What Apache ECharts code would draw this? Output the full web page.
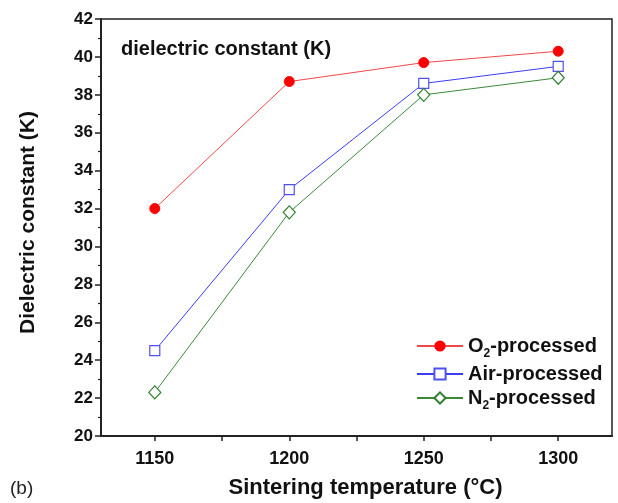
<!DOCTYPE html>
<html>
<head>
<meta charset="utf-8">
<script src="https://cdn.jsdelivr.net/npm/echarts@6/dist/echarts.min.js"></script>
<style>
  html, body { margin: 0; padding: 0; background: #fff; }
  #chart { width: 618px; height: 503px; }
</style>
</head>
<body>
<div id="chart"></div>
<script>
var temps = [1150, 1200, 1250, 1300];
var o2Vals = [32.0, 38.7, 39.7, 40.3];
var airVals = [24.5, 33.0, 38.6, 39.5];
var n2Vals = [22.3, 31.8, 38.0, 38.9];
var xLabels = [1150, 1200, 1250, 1300];
var xTicks = [1150, 1175, 1200, 1225, 1250, 1275, 1300];

var font = 'Liberation Sans, Arial, sans-serif';

function pairs(vals) {
  var out = [];
  for (var i = 0; i < temps.length; i++) out.push([temps[i], vals[i]]);
  return out;
}

var chart = echarts.init(document.getElementById('chart'));
chart.setOption({
  animation: false,
  grid: {
    left: 101, top: 19, right: 6, bottom: 67,
    containLabel: false, outerBoundsMode: 'none',
    show: true, borderColor: '#222', borderWidth: 1.5
  },
  title: {
    text: 'dielectric constant (K)',
    left: 116, top: 34,
    textStyle: { fontFamily: font, fontWeight: 'bold', fontSize: 20, color: '#111' }
  },
  legend: {
    orient: 'vertical',
    left: 411, top: 331,
    itemWidth: 46, itemHeight: 14, itemGap: 4,
    data: ['O2-processed', 'Air-processed', 'N2-processed'],
    formatter: function (name) {
      if (name === 'O2-processed') return 'O{s|2}-processed';
      if (name === 'N2-processed') return 'N{s|2}-processed';
      return name;
    },
    textStyle: {
      fontFamily: font, fontWeight: 'bold', fontSize: 20, color: '#111',
      rich: { s: { fontFamily: font, fontWeight: 'bold', fontSize: 12, padding: [16, 0, 0, 0], color: '#111' } }
    }
  },
  xAxis: {
    type: 'value', min: 1130, max: 1320,
    name: 'Sintering temperature (°C)',
    nameLocation: 'middle', nameGap: 41,
    nameTextStyle: { fontFamily: font, fontWeight: 'bold', fontSize: 22, color: '#111', padding: [0, 0, 0, 18] },
    axisLine: { show: true, lineStyle: { color: '#222', width: 2 } },
    axisTick: { show: true, inside: false, length: 5, customValues: xTicks, lineStyle: { color: '#222', width: 1.5 } },
    axisLabel: {
      customValues: xLabels, fontFamily: font, fontWeight: 'bold', fontSize: 18, color: '#111', margin: 14,
      formatter: function (v) { return String(v); }
    },
    splitLine: { show: false }
  },
  yAxis: {
    type: 'value', min: 20, max: 42, interval: 2,
    name: 'Dielectric constant (K)',
    nameLocation: 'middle', nameGap: 62, nameRotate: 90,
    nameTextStyle: { fontFamily: font, fontWeight: 'bold', fontSize: 21, color: '#111', padding: [0, 0, 0, 10] },
    axisLine: { show: true, lineStyle: { color: '#222', width: 2 } },
    axisTick: { show: true, inside: false, length: 6, lineStyle: { color: '#222', width: 1.5 } },
    minorTick: { show: true, splitNumber: 2, length: 3, lineStyle: { color: '#222', width: 1.2 } },
    axisLabel: { fontFamily: font, fontWeight: 'bold', fontSize: 17, color: '#111', margin: 8 },
    splitLine: { show: false }
  },
  graphic: [{
    type: 'text', left: 10, top: 479,
    style: { text: '(b)', fontFamily: font, fontSize: 19, fill: '#222' }
  }],
  series: [
    {
      name: 'O2-processed', type: 'line', data: pairs(o2Vals),
      symbol: 'circle', symbolSize: 10,
      lineStyle: { color: '#f04848', width: 1 },
      itemStyle: { color: '#ff0000', borderColor: '#ff0000' }
    },
    {
      name: 'Air-processed', type: 'line', data: pairs(airVals),
      symbol: 'rect', symbolSize: 10,
      lineStyle: { color: '#3c3cf0', width: 1 },
      itemStyle: { color: '#fff', borderColor: '#5050f0', borderWidth: 1.2 }
    },
    {
      name: 'N2-processed', type: 'line', data: pairs(n2Vals),
      symbol: 'diamond', symbolSize: [12, 13],
      lineStyle: { color: '#3a8a3a', width: 1 },
      itemStyle: { color: '#fff', borderColor: '#2f7f2f', borderWidth: 1.2 }
    }
  ]
});
</script>
</body>
</html>
